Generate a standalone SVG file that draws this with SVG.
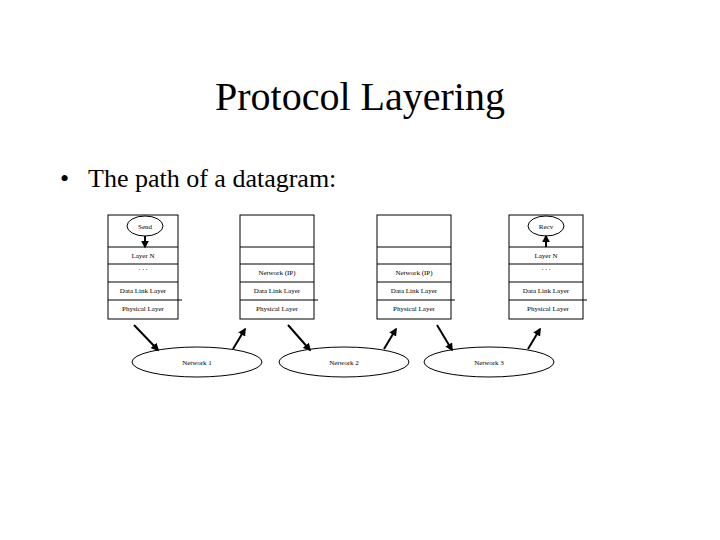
<svg xmlns="http://www.w3.org/2000/svg" width="720" height="540" viewBox="0 0 720 540">
<style>
.t{font-family:"Liberation Serif",serif;fill:#000}
.s{font-family:"Liberation Serif",serif;font-size:7px;text-anchor:middle;fill:#000}
.b{fill:#fff;stroke:#000;stroke-width:1}
.l{stroke:#000;stroke-width:1}
.a{stroke:#000;stroke-width:2;marker-end:url(#m)}
</style>
<defs><marker id="m" viewBox="0 0 10 10" refX="8" refY="5" markerWidth="4" markerHeight="4" orient="auto"><path d="M0,0L10,5L0,10z"/></marker></defs>
<rect width="720" height="540" fill="#fff"/>
<text class="t" x="360" y="110" font-size="40" text-anchor="middle">Protocol Layering</text>
<text class="t" x="60" y="187" font-size="26">•</text>
<text class="t" x="88" y="187" font-size="26">The path of a datagram:</text>
<g id="host1">
<rect class="b" x="108" y="215" width="70" height="104"/>
<line class="l" x1="108" y1="247" x2="178" y2="247"/><line class="l" x1="108" y1="264" x2="178" y2="264"/><line class="l" x1="108" y1="282" x2="178" y2="282"/><line class="l" x1="108" y1="300" x2="182" y2="300"/>
<ellipse class="b" cx="145" cy="226" rx="18" ry="10"/>
<text class="s" x="145" y="229">Send</text>
<text class="s" x="143" y="258">Layer N</text>
<text class="s" x="143" y="270">. . .</text>
<text class="s" x="143" y="293">Data Link Layer</text>
<text class="s" x="143" y="311">Physical Layer</text>
</g>
<g id="router1">
<rect class="b" x="240" y="215" width="74" height="104"/>
<line class="l" x1="240" y1="247" x2="314" y2="247"/><line class="l" x1="240" y1="264" x2="314" y2="264"/><line class="l" x1="240" y1="282" x2="314" y2="282"/><line class="l" x1="240" y1="300" x2="318" y2="300"/>
<text class="s" x="277" y="275">Network (IP)</text>
<text class="s" x="277" y="293">Data Link Layer</text>
<text class="s" x="277" y="311">Physical Layer</text>
</g>
<g id="router2">
<rect class="b" x="377" y="215" width="74" height="104"/>
<line class="l" x1="377" y1="247" x2="451" y2="247"/><line class="l" x1="377" y1="264" x2="451" y2="264"/><line class="l" x1="377" y1="282" x2="451" y2="282"/><line class="l" x1="377" y1="300" x2="455" y2="300"/>
<text class="s" x="414" y="275">Network (IP)</text>
<text class="s" x="414" y="293">Data Link Layer</text>
<text class="s" x="414" y="311">Physical Layer</text>
</g>
<g id="host2">
<rect class="b" x="509" y="215" width="74" height="104"/>
<line class="l" x1="509" y1="247" x2="583" y2="247"/><line class="l" x1="509" y1="264" x2="583" y2="264"/><line class="l" x1="509" y1="282" x2="583" y2="282"/><line class="l" x1="509" y1="300" x2="587" y2="300"/>
<ellipse class="b" cx="546" cy="226" rx="18" ry="10"/>
<text class="s" x="546" y="229">Recv</text>
<text class="s" x="546" y="258">Layer N</text>
<text class="s" x="546" y="270">. . .</text>
<text class="s" x="546" y="293">Data Link Layer</text>
<text class="s" x="548" y="311">Physical Layer</text>
</g>
<g id="net1"><ellipse class="b" cx="197" cy="362" rx="65" ry="15"/><text class="s" x="197" y="365">Network 1</text></g>
<g id="net2"><ellipse class="b" cx="344" cy="362" rx="65" ry="15"/><text class="s" x="344" y="365">Network 2</text></g>
<g id="net3"><ellipse class="b" cx="489" cy="362" rx="65" ry="15"/><text class="s" x="489" y="365">Network 3</text></g>
<g id="connectors">
<line class="a" x1="145" y1="236" x2="145" y2="247"/>
<line class="a" x1="546" y1="247" x2="546" y2="236"/>
<line class="a" x1="134" y1="325" x2="158" y2="350"/>
<line class="a" x1="233" y1="349" x2="245" y2="329"/>
<line class="a" x1="288" y1="325" x2="310" y2="350"/>
<line class="a" x1="384" y1="349" x2="396" y2="329"/>
<line class="a" x1="437" y1="325" x2="452" y2="350"/>
<line class="a" x1="528" y1="349" x2="540" y2="329"/>
</g>
</svg>
